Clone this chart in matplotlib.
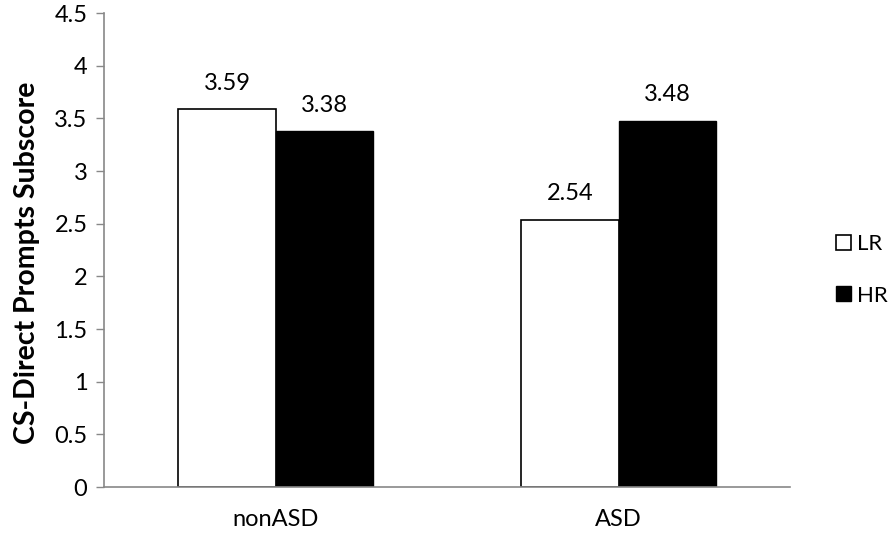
import numpy as np
import matplotlib.pyplot as plt

plt.rcParams['font.family'] = ['Lato', 'DejaVu Sans']

groups = ['nonASD', 'ASD']
lr_vals = [3.59, 2.54]
hr_vals = [3.38, 3.48]
yticks = [0, 0.5, 1, 1.5, 2, 2.5, 3, 3.5, 4, 4.5]

fig = plt.figure(figsize=(8.9, 5.41), dpi=100)
ax = fig.add_axes([0.117, 0.0998, 0.771, 0.876])

x = np.arange(len(groups))
w = 0.284
b1 = ax.bar(x - w/2, lr_vals, w, color='white', edgecolor='black', linewidth=1.2, label='LR')
b2 = ax.bar(x + w/2, hr_vals, w, color='black', edgecolor='black', linewidth=1.0, label='HR')

for bars, vals in ((b1, lr_vals), (b2, hr_vals)):
    for rect, v in zip(bars, vals):
        ax.annotate(f'{v:.2f}', (rect.get_x() + rect.get_width()/2, v),
                    xytext=(0, 11), textcoords='offset points',
                    ha='center', va='bottom', fontsize=17)

ax.set_xlim(-0.5, 1.5)
ax.set_ylim(0, 4.5)
ax.set_xticks(x)
ax.set_xticklabels(groups, fontsize=17)
ax.set_yticks(yticks)
ax.set_yticklabels([f'{t:g}' for t in yticks], fontsize=17)
ax.tick_params(axis='x', length=0, pad=16)
ax.tick_params(axis='y', length=6, width=1, color='#888888', pad=6)

for s in ('top', 'right'):
    ax.spines[s].set_visible(False)
for s in ('left', 'bottom'):
    ax.spines[s].set_color('#888888')
    ax.spines[s].set_linewidth(1.2)

ax.set_ylabel('CS-Direct Prompts Subscore', fontsize=20.5, fontweight='bold')
ax.yaxis.set_label_coords(-0.094, 0.473)

fig.legend(handles=[b1, b2], loc='center left', bbox_to_anchor=(0.917, 0.501),
           frameon=False, fontsize=16, handlelength=0.65, handleheight=0.65,
           handletextpad=0.3, labelspacing=1.4)

fig.savefig('out.png', dpi=100)
